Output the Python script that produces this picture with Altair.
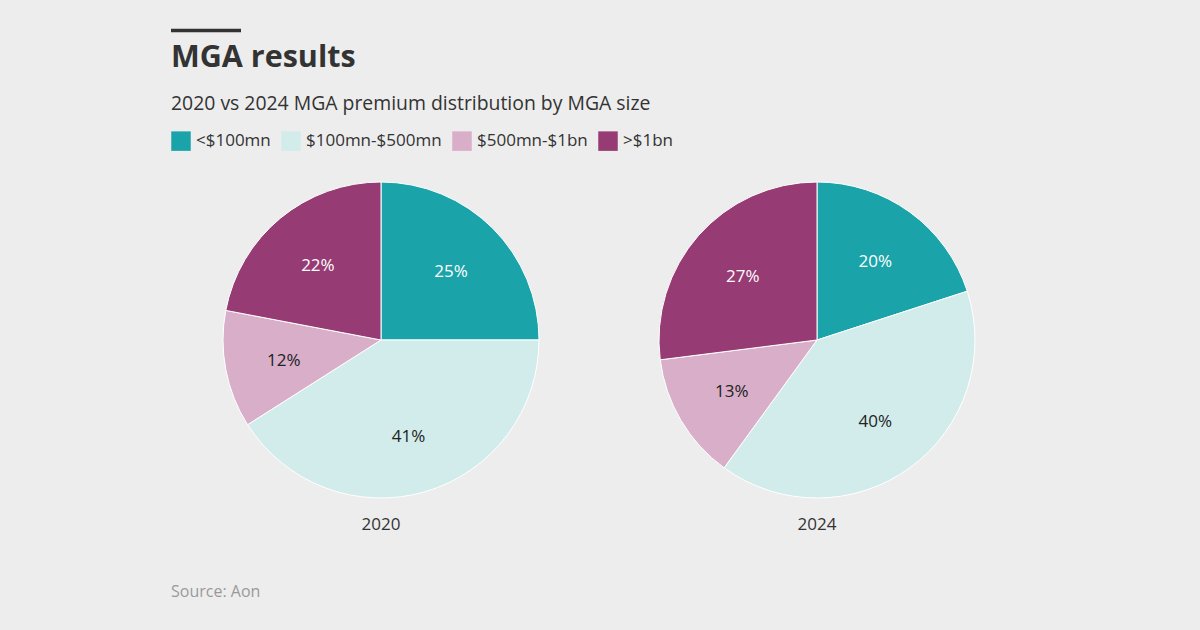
import math
import altair as alt
import pandas as pd

# MGA premium share by MGA size, 2020 vs 2024 (per cent)
years = [2020, 2024]
categories = ["<$100mn", "$100mn-$500mn", "$500mn-$1bn", ">$1bn"]
share_2020 = [25, 41, 12, 22]
share_2024 = [20, 40, 13, 27]
palette = ["#1aa3a8", "#d2ecec", "#d8aec9", "#963b73"]
dark_slices = ["<$100mn", ">$1bn"]

rows = []
for year, shares in zip(years, [share_2020, share_2024]):
    for i, (cat, val) in enumerate(zip(categories, shares)):
        rows.append({"year": year, "category": cat, "value": val, "order": i})
df = pd.DataFrame(rows)
year_df = pd.DataFrame({"year": years, "year_label": [str(y) for y in years]})
one_row = year_df.head(1)

FONT = "Open Sans"
PAD_LEFT, PAD_TOP = 171, 160
W, H = 1200 - PAD_LEFT, 630 - PAD_TOP

# pie centres come from the year scale; no stacking along x
x_year = alt.X(
    "year:Q", stack=None, scale=alt.Scale(domain=years, range=[210, 646]), axis=None
)
theta_scale = alt.Scale(domain=[0, 100], range=[0, 2 * math.pi])

# cumulative start / end of every slice within its year, clockwise from 12 o'clock
base = (
    alt.Chart(df)
    .transform_window(
        cum="sum(value)", groupby=["year"], sort=[alt.SortField("order")], frame=[None, 0]
    )
    .transform_calculate(
        start="datum.cum - datum.value",
        mid="datum.cum - datum.value / 2",
        pct="datum.value + '%'",
    )
)

arcs = base.mark_arc(radius=158, stroke="white", strokeWidth=1).encode(
    x=x_year,
    y=alt.value(180),
    theta=alt.Theta("start:Q", scale=theta_scale, stack=None),
    theta2="cum:Q",
    color=alt.Color(
        "category:N",
        scale=alt.Scale(domain=categories, range=palette),
        legend=alt.Legend(
            orient="top",
            direction="horizontal",
            title=None,
            symbolType="square",
            symbolSize=380,
            symbolStrokeWidth=0,
            symbolOpacity=1,
            labelFont=FONT,
            labelFontSize=17,
            labelColor="#333333",
            labelOffset=5,
            columnPadding=10,
            offset=9,
        ),
    ),
)

slice_labels = base.mark_text(radius=99, dy=2, font=FONT, fontSize=17).encode(
    x=x_year,
    y=alt.value(180),
    theta=alt.Theta("mid:Q", scale=theta_scale, stack=None),
    text="pct:N",
    color=alt.condition(
        alt.FieldOneOfPredicate(field="category", oneOf=dark_slices),
        alt.value("#ffffff"),
        alt.value("#222222"),
    ),
)

year_labels = alt.Chart(year_df).mark_text(
    font=FONT, fontSize=17, color="#333333"
).encode(x=x_year, y=alt.value(365), text="year_label:N")

source = alt.Chart(one_row).mark_text(
    font=FONT, fontSize=16, color="#9a9a9a", align="left"
).encode(x=alt.value(0), y=alt.value(432), text=alt.value("Source: Aon"))

title_bar = alt.Chart(one_row).mark_rule(color="#333333", strokeWidth=3.5).encode(
    x=alt.value(0), x2=alt.value(70), y=alt.value(-129.5)
)

title = alt.Chart(one_row).mark_text(
    font=FONT, fontSize=30.5, fontWeight="bold", color="#333333",
    align="left", baseline="alphabetic",
).encode(x=alt.value(0), y=alt.value(-93), text=alt.value("MGA results"))

subtitle = alt.Chart(one_row).mark_text(
    font=FONT, fontSize=19.4, color="#333333", align="left", baseline="alphabetic",
).encode(
    x=alt.value(0),
    y=alt.value(-50),
    text=alt.value("2020 vs 2024 MGA premium distribution by MGA size"),
)

chart = (
    alt.layer(arcs, slice_labels, year_labels, source, title_bar, title, subtitle)
    .properties(
        width=W,
        height=H,
        padding={"left": PAD_LEFT, "top": PAD_TOP, "right": 0, "bottom": 0},
        autosize=alt.AutoSizeParams(type="none"),
        background="#ededed",
    )
    .configure_view(stroke=None)
)

chart.save("out.html", embed_options={"renderer": "svg", "actions": False})
